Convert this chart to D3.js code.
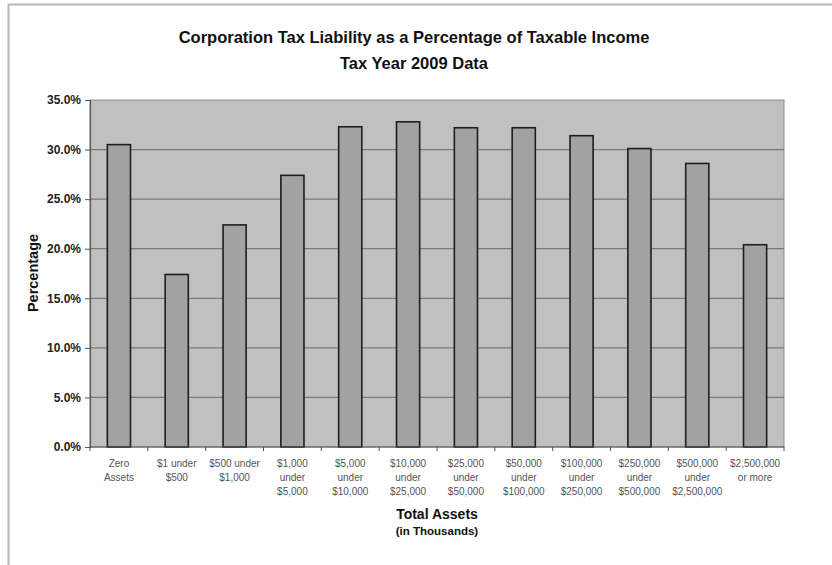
<!DOCTYPE html>
<html><head><meta charset="utf-8">
<script src="https://cdn.jsdelivr.net/npm/d3@7"></script>
<style>body{margin:0;background:#fff}svg{display:block}</style>
</head><body>
<script>
const categories = [
  ["Zero","Assets"],["$1 under","$500"],["$500 under","$1,000"],
  ["$1,000","under","$5,000"],["$5,000","under","$10,000"],["$10,000","under","$25,000"],
  ["$25,000","under","$50,000"],["$50,000","under","$100,000"],["$100,000","under","$250,000"],
  ["$250,000","under","$500,000"],["$500,000","under","$2,500,000"],["$2,500,000","or more"]
];
const values = [30.5, 17.4, 22.4, 27.4, 32.3, 32.8, 32.2, 32.2, 31.4, 30.1, 28.6, 20.4];
const yTicks = [0, 5, 10, 15, 20, 25, 30, 35];
const titleLines = ["Corporation Tax Liability as a Percentage of Taxable Income", "Tax Year 2009 Data"];

const W = 832, H = 565;
const svg = d3.select("body").append("svg").attr("width", W).attr("height", H);
svg.append("rect").attr("x", 8.5).attr("y", 4.5).attr("width", 830).attr("height", 600)
  .attr("fill", "#fff").attr("stroke", "#b8b8b8").attr("stroke-width", 2);

const m = {l: 90, r: 784, t: 100, b: 447};
const x = d3.scaleBand().domain(d3.range(categories.length)).range([m.l, m.r]).paddingInner(0.6).paddingOuter(0.3);
const xb = d3.scaleBand().domain(d3.range(categories.length)).range([m.l, m.r]);
const y = d3.scaleLinear().domain([0, 35]).range([m.b, m.t]);

svg.append("rect").attr("x", m.l).attr("y", m.t).attr("width", m.r - m.l).attr("height", m.b - m.t)
  .attr("fill", "#c0c0c0").attr("stroke", "#8c8c8c").attr("stroke-width", 1);

svg.append("g").selectAll("line").data(yTicks.slice(1, -1)).join("line")
  .attr("x1", m.l).attr("x2", m.r).attr("y1", d => y(d)).attr("y2", d => y(d))
  .attr("stroke", "#7a7a7a").attr("stroke-width", 1.2);

svg.append("g").selectAll("rect").data(values).join("rect")
  .attr("x", (d, i) => x(i)).attr("width", x.bandwidth())
  .attr("y", d => y(d)).attr("height", d => y(0) - y(d))
  .attr("fill", "#a2a2a2").attr("stroke", "#1e1e1e").attr("stroke-width", 1.6);

const tf = "Liberation Sans, Arial, sans-serif";

// Y axis
const yAxis = d3.axisLeft(y).tickValues(yTicks).tickFormat(d => d.toFixed(1) + "%").tickSize(5).tickPadding(4);
const gy = svg.append("g").attr("transform", `translate(${m.l},0)`).call(yAxis);
gy.select(".domain").attr("stroke", "#555").attr("stroke-width", 1.2);
gy.selectAll(".tick line").attr("stroke", "#555");
gy.selectAll("text").attr("font-family", tf).attr("font-size", 12)
  .attr("font-weight", "bold").attr("fill", "#222");

// X axis baseline and ticks at boundaries
svg.append("line").attr("x1", m.l).attr("x2", m.r).attr("y1", m.b).attr("y2", m.b)
  .attr("stroke", "#555").attr("stroke-width", 1.2);
svg.append("g").selectAll("line").data(d3.range(categories.length + 1)).join("line")
  .attr("x1", i => m.l + i * xb.step()).attr("x2", i => m.l + i * xb.step())
  .attr("y1", m.b).attr("y2", m.b + 4).attr("stroke", "#555");

const xl = svg.append("g").selectAll("text").data(categories).join("text")
  .attr("x", (d, i) => xb(i) + xb.bandwidth() / 2).attr("y", 467)
  .attr("text-anchor", "middle").attr("font-family", tf)
  .attr("font-size", 10).attr("fill", "#555");
xl.selectAll("tspan").data(d => d).join("tspan")
  .attr("x", function() { return this.parentNode.getAttribute("x"); })
  .attr("dy", (d, i) => i === 0 ? 0 : 14).text(d => d);

// Titles
svg.append("text").attr("x", 414).attr("y", 43).attr("text-anchor", "middle")
  .attr("font-family", tf).attr("font-weight", "bold").attr("font-size", 16.5).attr("fill", "#111").text(titleLines[0]);
svg.append("text").attr("x", 414).attr("y", 69).attr("text-anchor", "middle")
  .attr("font-family", tf).attr("font-weight", "bold").attr("font-size", 16.5).attr("fill", "#111").text(titleLines[1]);

svg.append("text").attr("transform", "translate(38,273) rotate(-90)").attr("text-anchor", "middle")
  .attr("font-family", tf).attr("font-weight", "bold").attr("font-size", 14.5).attr("fill", "#111").text("Percentage");

svg.append("text").attr("x", 437).attr("y", 519).attr("text-anchor", "middle")
  .attr("font-family", tf).attr("font-weight", "bold").attr("font-size", 14).attr("fill", "#111").text("Total Assets");
svg.append("text").attr("x", 437).attr("y", 535).attr("text-anchor", "middle")
  .attr("font-family", tf).attr("font-weight", "bold").attr("font-size", 11.5).attr("fill", "#111").text("(in Thousands)");
</script>
</body></html>
